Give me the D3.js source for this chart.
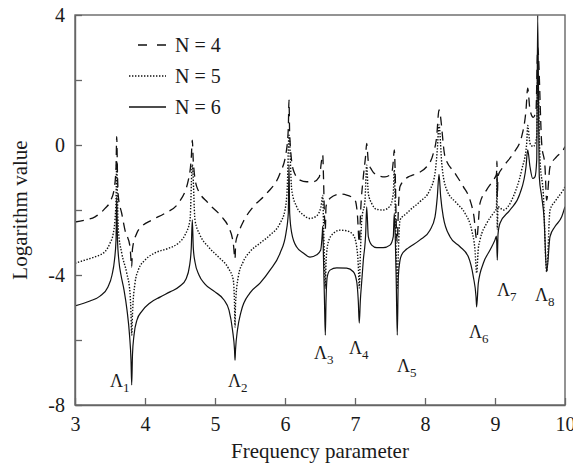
<!DOCTYPE html>
<html>
<head>
<meta charset="utf-8">
<script src="https://cdn.jsdelivr.net/npm/d3@7"></script>
<style>
	body { margin: 0; background: #fff; }
	svg text { font-family: "Liberation Serif", "Times New Roman", Tinos, "DejaVu Serif", serif; fill: #1a1a1a; }
</style>
</head>
<body>
<div id="chart"></div>
<script>
const dest		= '#chart';

// legend / series names
const seriesNames	= ['N = 4', 'N = 5', 'N = 6'];

// N = 4 (dashed)
const n4 = [
	[3.0,-2.37],[3.143,-2.31],[3.286,-2.21],[3.429,-1.95],[3.514,-1.69],[3.561,-1.33],[3.586,-0.7],[3.596,0.26],
	[3.607,-0.9],[3.619,-1.59],[3.667,-2.1],[3.714,-2.62],[3.786,-3.13],[3.81,-3.75],[3.821,-3.2],[3.881,-2.72],
	[3.953,-2.51],[4.096,-2.31],[4.286,-2.1],[4.476,-1.79],[4.619,-1.08],[4.661,-0.4],[4.676,0.15],[4.69,-0.5],
	[4.739,-1.28],[4.904,-1.79],[5.096,-2.21],[5.19,-2.51],[5.261,-3.02],[5.286,-3.5],[5.296,-3.0],[5.333,-2.72],
	[5.404,-2.36],[5.547,-1.9],[5.739,-1.49],[5.929,-0.87],[6.014,-0.26],[6.047,0.5],[6.057,1.38],[6.067,0.3],
	[6.119,-0.77],[6.214,-1.08],[6.31,-1.13],[6.404,-1.13],[6.49,-0.98],[6.524,-0.46],[6.539,-0.3],[6.55,-1.0],
	[6.564,-2.2],[6.576,-2.6],[6.586,-1.9],[6.619,-1.7],[6.643,-1.64],[6.786,-1.51],[6.881,-1.54],[7.0,-1.69],
	[7.033,-2.1],[7.061,-3.0],[7.081,-2.0],[7.119,-0.98],[7.153,-0.3],[7.167,0.05],[7.19,-0.5],[7.239,-0.77],
	[7.31,-0.92],[7.429,-0.98],[7.524,-0.87],[7.547,-0.5],[7.561,-0.15],[7.576,-1.0],[7.59,-2.5],[7.604,-3.0],
	[7.619,-2.0],[7.643,-1.28],[7.761,-0.98],[7.833,-0.92],[8.024,-0.67],[8.119,-0.26],[8.167,0.26],[8.2,1.08],
	[8.286,-0.36],[8.429,-0.87],[8.547,-1.28],[8.643,-1.69],[8.7,-2.21],[8.738,-2.9],[8.786,-1.79],[8.881,-1.38],
	[8.976,-1.08],[9.021,-0.9],[9.028,-0.5],[9.033,-1.6],[9.043,-0.95],[9.119,-0.67],[9.261,-0.26],[9.381,0.26],
	[9.443,1.08],[9.467,1.75],[9.5,1.08],[9.547,0.85],[9.586,1.08],[9.61,3.0],[9.667,0.05],[9.714,-0.67],
	[9.738,-1.7],[9.786,-0.67],[9.881,-0.36],[9.976,-0.15],[10.0,-0.05]
];

// N = 5 (dotted)
const n5 = [
	[3.0,-3.64],[3.143,-3.54],[3.286,-3.44],[3.429,-3.28],[3.5,-3.02],[3.547,-2.72],[3.571,-2.31],[3.586,-1.7],
	[3.596,-0.5],[3.607,-1.7],[3.619,-2.62],[3.667,-3.32],[3.739,-3.94],[3.786,-4.55],[3.8,-5.2],[3.81,-5.85],
	[3.821,-5.2],[3.857,-4.25],[3.904,-3.85],[4.0,-3.54],[4.143,-3.32],[4.333,-3.18],[4.476,-3.02],[4.571,-2.77],
	[4.643,-2.31],[4.676,-0.6],[4.714,-2.31],[4.786,-2.77],[4.904,-3.13],[5.047,-3.44],[5.19,-3.79],[5.261,-4.15],
	[5.279,-4.9],[5.286,-5.6],[5.293,-4.9],[5.333,-4.05],[5.404,-3.59],[5.5,-3.28],[5.643,-3.02],[5.786,-2.77],
	[5.929,-2.41],[6.0,-2.0],[6.033,-1.28],[6.057,0.3],[6.096,-1.38],[6.167,-1.9],[6.261,-2.15],[6.357,-2.26],
	[6.453,-2.18],[6.514,-1.9],[6.539,-1.55],[6.55,-2.4],[6.564,-3.6],[6.576,-4.4],[6.586,-3.6],[6.619,-2.98],
	[6.69,-2.72],[6.786,-2.62],[6.881,-2.64],[6.976,-2.77],[7.024,-3.13],[7.047,-3.7],[7.061,-4.4],[7.076,-3.4],
	[7.096,-2.31],[7.143,-1.69],[7.167,-0.62],[7.19,-1.49],[7.239,-1.8],[7.31,-1.98],[7.404,-2.0],[7.5,-1.88],
	[7.547,-1.49],[7.561,-0.77],[7.576,-2.0],[7.59,-3.5],[7.604,-4.4],[7.619,-3.3],[7.643,-2.31],[7.739,-2.1],
	[7.786,-2.0],[7.929,-1.74],[8.071,-1.38],[8.143,-0.87],[8.176,-0.15],[8.2,0.62],[8.239,-0.56],[8.31,-1.38],
	[8.453,-1.79],[8.571,-2.1],[8.667,-2.62],[8.714,-3.23],[8.738,-3.94],[8.761,-3.2],[8.786,-2.92],[8.881,-2.41],
	[8.976,-2.1],[9.021,-1.95],[9.028,-1.0],[9.033,-2.6],[9.043,-1.9],[9.119,-2.0],[9.261,-1.59],[9.381,-0.77],
	[9.453,0.05],[9.467,0.6],[9.5,0.05],[9.547,-0.05],[9.596,0.26],[9.61,2.2],[9.643,-0.46],[9.69,-1.49],
	[9.738,-3.9],[9.786,-2.0],[9.857,-1.74],[9.976,-1.38],[10.0,-1.29]
];

// N = 6 (solid)
const n6 = [
	[3.0,-4.95],[3.214,-4.8],[3.357,-4.65],[3.471,-4.37],[3.529,-4.0],[3.564,-3.54],[3.586,-2.92],[3.596,-1.6],
	[3.607,-2.92],[3.629,-3.6],[3.657,-4.0],[3.7,-4.46],[3.743,-5.08],[3.779,-5.85],[3.8,-6.62],[3.81,-7.38],
	[3.821,-6.46],[3.843,-5.85],[3.886,-5.38],[3.957,-5.11],[4.071,-4.86],[4.214,-4.68],[4.357,-4.52],[4.5,-4.34],
	[4.586,-4.12],[4.636,-3.72],[4.661,-3.17],[4.676,-2.3],[4.69,-3.17],[4.714,-3.6],[4.771,-4.0],[4.857,-4.28],
	[5.0,-4.52],[5.129,-4.77],[5.2,-5.08],[5.25,-5.69],[5.279,-6.31],[5.286,-6.62],[5.293,-6.31],[5.321,-5.69],
	[5.371,-5.14],[5.5,-4.55],[5.643,-4.25],[5.786,-3.85],[5.929,-3.33],[6.014,-2.71],[6.047,-2.1],[6.057,-0.6],
	[6.067,-2.1],[6.096,-2.71],[6.167,-3.14],[6.261,-3.32],[6.357,-3.45],[6.453,-3.38],[6.51,-3.23],[6.533,-2.71],
	[6.539,-2.5],[6.55,-3.5],[6.564,-4.8],[6.576,-5.85],[6.586,-4.8],[6.604,-4.05],[6.643,-3.85],[6.739,-3.78],
	[6.881,-3.79],[6.976,-3.9],[7.024,-4.2],[7.047,-4.8],[7.061,-5.48],[7.076,-4.8],[7.096,-4.2],[7.119,-3.54],
	[7.153,-2.71],[7.167,-1.9],[7.19,-2.82],[7.239,-3.08],[7.31,-3.16],[7.404,-3.16],[7.5,-3.08],[7.547,-2.82],
	[7.561,-2.1],[7.576,-2.9],[7.59,-4.3],[7.604,-5.85],[7.619,-4.05],[7.643,-3.55],[7.667,-3.38],[7.739,-3.2],
	[7.786,-3.13],[7.929,-2.92],[8.071,-2.62],[8.143,-2.21],[8.176,-1.59],[8.2,-0.9],[8.224,-1.59],[8.261,-2.21],
	[8.357,-2.82],[8.5,-3.13],[8.619,-3.44],[8.69,-4.05],[8.729,-4.67],[8.738,-4.98],[8.761,-4.26],[8.833,-3.64],
	[8.929,-3.23],[9.0,-2.92],[9.021,-2.8],[9.033,-3.54],[9.043,-2.75],[9.071,-2.41],[9.214,-2.0],[9.357,-1.49],
	[9.443,-0.67],[9.467,-0.15],[9.5,-0.67],[9.539,-1.03],[9.571,-0.98],[9.596,-0.46],[9.61,4.0],[9.633,-0.98],
	[9.667,-1.59],[9.7,-2.21],[9.738,-3.9],[9.786,-2.82],[9.857,-2.51],[9.953,-2.21],[10.0,-1.9]
];

// axis ticks
const xTicks		= [3, 4, 5, 6, 7, 8, 9, 10];
const yTicks		= [-8, -6, -4, -2, 0, 2, 4];
const yLabelled		= [-8, -4, 0, 4];

// resonance labels Λ1..Λ8, anchored in data coordinates
const lamNames		= ['1', '2', '3', '4', '5', '6', '7', '8'];
const lamX			= [3.5, 5.186, 6.414, 6.914, 7.6, 8.629, 9.029, 9.571];
const lamY			= [-7.45, -7.45, -6.58, -6.43, -6.98, -5.94, -4.65, -4.8];

const serif			= '"Liberation Serif", "Times New Roman", Tinos, "DejaVu Serif", serif';

function createChart() {
	let canvasWidth		= 573;
	let canvasHeight	= 466;

	let margin			= { top: 15, right: 8, bottom: 61, left: 75 };
	let width			= canvasWidth - margin.left - margin.right;
	let height			= canvasHeight - margin.top - margin.bottom;

	let x				= d3.scaleLinear().range([0, width]).domain([3, 10]);
	let y				= d3.scaleLinear().range([height, 0]).domain([-8, 4]);

	let svg = d3.select(dest).append('svg')
		.attr('width', canvasWidth)
		.attr('height', canvasHeight)
		.attr('font-family', serif)
		.append('g')
			.attr('transform', 'translate(' + margin.left + ',' + margin.top + ')');

	svg.append('clipPath').attr('id', 'plot-clip')
		.append('rect').attr('width', width).attr('height', height);

	// curves
	let line = d3.line()
		.x((d) => x(d[0]))
		.y((d) => y(d[1]))
		.curve(d3.curveMonotoneX);

	let styles = [
		{ data: n4, dash: '9,6', w: 1.3 },
		{ data: n5, dash: '1.4,1.6', w: 1.4 },
		{ data: n6, dash: null, w: 1.2 }
	];

	svg.append('g')
		.attr('clip-path', 'url(#plot-clip)')
		.selectAll('path')
		.data(styles)
			.enter().append('path')
			.attr('d', (o) => line(o.data))
			.attr('fill', 'none')
			.attr('stroke', '#111')
			.attr('stroke-width', (o) => o.w)
			.attr('stroke-dasharray', (o) => o.dash);

	// frame
	svg.append('rect')
		.attr('width', width)
		.attr('height', height)
		.attr('fill', 'none')
		.attr('stroke', '#666')
		.attr('stroke-width', 1.4);

	// axes
	let xAxis = svg.append('g')
		.attr('transform', 'translate(0,' + height + ')')
		.call(d3.axisBottom(x).tickValues(xTicks).tickSizeInner(-7).tickSizeOuter(0).tickPadding(12).tickFormat((d) => String(d)));

	let yAxis = svg.append('g')
		.call(d3.axisLeft(y).tickValues(yTicks).tickSizeInner(-7).tickSizeOuter(0).tickPadding(10)
			.tickFormat((d) => (yLabelled.includes(d) ? String(d) : '')));

	[xAxis, yAxis].forEach((a) => {
		a.attr('font-family', serif).attr('font-size', 20);
		a.select('.domain').attr('stroke', '#666').attr('stroke-width', 1.4);
		a.selectAll('.tick line').attr('stroke', '#666').attr('stroke-width', 1.3);
		a.selectAll('.tick text').attr('fill', '#1a1a1a');
	});

	// axis titles
	svg.append('text')
		.attr('x', width / 2)
		.attr('y', height + 53)
		.attr('text-anchor', 'middle')
		.attr('font-size', 21)
		.text('Frequency parameter');

	svg.append('text')
		.attr('transform', 'translate(' + (-48) + ',' + (height / 2) + ') rotate(-90)')
		.attr('text-anchor', 'middle')
		.attr('font-size', 21)
		.text('Logarithm value');

	// legend (x positions relative to the plot's left edge)
	let legend = svg.append('g').attr('transform', 'translate(0,30)');
	let legendDash = ['9,10', '1.4,1.6', null];
	let legendStart = [63, 54, 54];

	seriesNames.forEach((name, i) => {
		let row = legend.append('g').attr('transform', 'translate(0,' + (i * 31) + ')');
		row.append('line')
			.attr('x1', legendStart[i]).attr('x2', 91)
			.attr('y1', 0).attr('y2', 0)
			.attr('stroke', '#111')
			.attr('stroke-width', i == 1 ? 1.4 : 1.3)
			.attr('stroke-dasharray', legendDash[i]);
		row.append('text')
			.attr('x', 100)
			.attr('y', 7)
			.attr('font-size', 20)
			.text(name);
	});

	// Λ labels
	let lam = svg.append('g')
		.selectAll('text')
		.data(lamNames)
			.enter().append('text')
			.attr('x', (o, i) => x(lamX[i]))
			.attr('y', (o, i) => y(lamY[i]))
			.attr('font-size', 18);

	lam.append('tspan').text('Λ');
	lam.append('tspan').attr('font-size', 13).attr('dy', 5).text((o) => o);
}

createChart();
</script>
</body>
</html>
